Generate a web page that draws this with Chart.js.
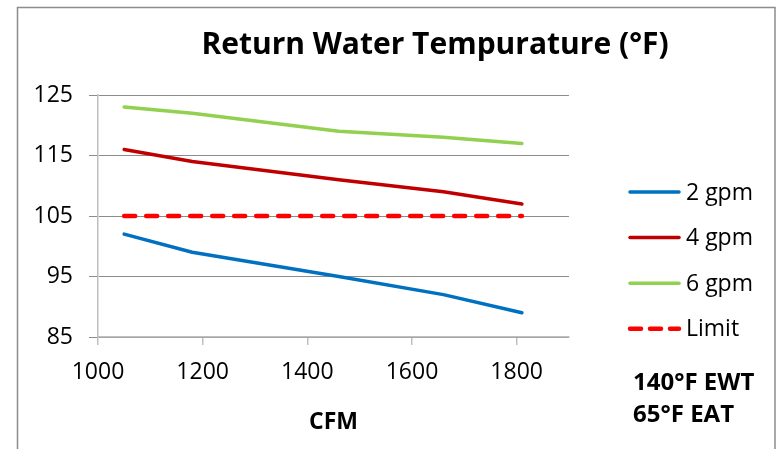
<!DOCTYPE html>
<html>
<head>
<meta charset="utf-8">
<script src="https://cdn.jsdelivr.net/npm/chart.js@4.4.1/dist/chart.umd.min.js"></script>
<style>
  html, body { margin: 0; padding: 0; background: #ffffff; }
  canvas { display: block; }
</style>
</head>
<body>
<canvas id="chart" width="777" height="449"></canvas>
<script>
// Air flow (CFM) at each test point
const cfm = [1050, 1180, 1460, 1660, 1810];
// Return water temperature (°F) per water flow rate
const gpm2 = [102, 99, 95, 92, 89];
const gpm4 = [116, 114, 111, 109, 107];
const gpm6 = [123, 122, 119, 118, 117];
const limit = [105, 105, 105, 105, 105];

const seriesNames = ['2 gpm', '4 gpm', '6 gpm', 'Limit'];
const xTicks = [1000, 1200, 1400, 1600, 1800];
const yTicks = [85, 95, 105, 115, 125];
const chartTitle = 'Return Water Tempurature (°F)';
const xTitle = 'CFM';
const notes = ['140°F EWT', '65°F EAT'];

const FONT = '"Open Sans", "Liberation Sans", sans-serif';

function points(values) {
  return cfm.map((x, i) => ({ x: x, y: values[i] }));
}

function lineSet(label, values, color, width, dash) {
  return {
    label: label,
    data: points(values),
    borderColor: color,
    backgroundColor: color,
    borderWidth: width,
    borderDash: dash || [],
    borderCapStyle: 'round',
    borderJoinStyle: 'round',
    pointRadius: 0,
    pointHoverRadius: 0,
    tension: 0,
    fill: false
  };
}

const datasets = [
  lineSet(seriesNames[0], gpm2, '#0070C0', 3.5),
  lineSet(seriesNames[1], gpm4, '#C00000', 3.5),
  lineSet(seriesNames[2], gpm6, '#92D050', 3.5),
  lineSet(seriesNames[3], limit, '#FF0000', 4.5, [11, 11])
];

// Frame, title, legend and test-condition notes
const decorations = {
  id: 'decorations',
  afterDraw(chart) {
    const ctx = chart.ctx;
    ctx.save();

    ctx.strokeStyle = '#8c8c8c';
    ctx.lineWidth = 1.5;
    ctx.strokeRect(17.5, 7.5, 757.5, 470);

    ctx.fillStyle = '#000000';
    ctx.textBaseline = 'middle';
    ctx.textAlign = 'center';
    ctx.font = 'bold 30px ' + FONT;
    ctx.fillText(chartTitle, 435, 45);

    chart.data.datasets.forEach((ds, i) => {
      const y = 192 + i * 45.6;
      ctx.beginPath();
      ctx.strokeStyle = ds.borderColor;
      ctx.lineWidth = ds.borderWidth;
      ctx.lineCap = 'round';
      ctx.setLineDash(ds.borderDash.length ? [11, 9] : []);
      ctx.moveTo(630, y);
      ctx.lineTo(679, y);
      ctx.stroke();
      ctx.setLineDash([]);
      ctx.fillStyle = '#000000';
      ctx.textAlign = 'left';
      ctx.font = '23px ' + FONT;
      ctx.fillText(ds.label, 686, y + 1);
    });

    ctx.font = 'bold 24px ' + FONT;
    ctx.textAlign = 'left';
    ctx.fillText(notes[0], 633, 383);
    ctx.fillText(notes[1], 633, 415);

    ctx.restore();
  }
};

new Chart(document.getElementById('chart'), {
  type: 'line',
  data: { datasets: datasets },
  plugins: [decorations],
  options: {
    responsive: false,
    animation: false,
    events: [],
    layout: { padding: { top: 95, right: 208, bottom: 0, left: 0 } },
    plugins: {
      legend: { display: false },
      title: { display: false },
      tooltip: { enabled: false }
    },
    scales: {
      x: {
        type: 'linear',
        min: 1000,
        max: 1900,
        afterBuildTicks(scale) { scale.ticks = xTicks.map(v => ({ value: v })); },
        afterFit(scale) { scale.height = 112; },
        grid: {
          drawOnChartArea: false,
          drawTicks: true,
          tickLength: 8,
          color: '#bfbfbf',
          tickColor: '#bfbfbf',
          lineWidth: 1.5
        },
        border: { color: '#bfbfbf', width: 1.5 },
        ticks: {
          font: { family: FONT, size: 23 },
          color: '#000000',
          padding: 14,
          maxRotation: 0,
          autoSkip: false,
          callback: v => String(v)
        },
        title: {
          display: true,
          text: xTitle,
          font: { family: FONT, size: 23, weight: 'bold' },
          color: '#000000',
          padding: { top: 0, bottom: 13 }
        }
      },
      y: {
        type: 'linear',
        min: 85,
        max: 125,
        afterBuildTicks(scale) { scale.ticks = yTicks.map(v => ({ value: v })); },
        afterFit(scale) { scale.width = 98; },
        grid: {
          color: '#8c8c8c',
          tickColor: '#8c8c8c',
          tickLength: 9,
          lineWidth: 1
        },
        border: { color: '#bfbfbf', width: 1.5 },
        ticks: {
          font: { family: FONT, size: 23 },
          color: '#000000',
          padding: 16,
          callback: v => String(v)
        }
      }
    }
  }
});
</script>
</body>
</html>
